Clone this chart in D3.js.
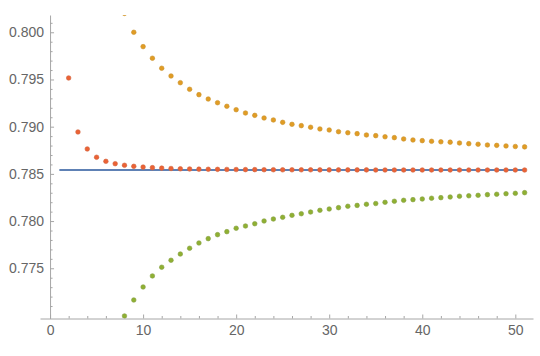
<!DOCTYPE html>
<html>
<head>
<meta charset="utf-8">
<script src="https://cdn.jsdelivr.net/npm/d3@7"></script>
<style>
  body { margin: 0; background: #fff; }
  .axis text { font-family: "Liberation Sans", Arial, sans-serif; font-size: 14px; fill: #666; }
  .axis path, .axis line { stroke: #a6a6a6; }
</style>
</head>
<body>
<div id="chart"></div>
<script>
// values, one per integer n
var limitValue = 0.785398;          // the flat blue line
var lineStart = 1, lineEnd = 51;

var redStart = 2;
var redValues = [0.79516, 0.78944, 0.78764, 0.78676, 0.78633, 0.78608, 0.78591, 0.78580,
  0.78572, 0.78566, 0.78561, 0.78557, 0.78554, 0.78552, 0.78550, 0.78549, 0.78548, 0.78547,
  0.78546, 0.78545, 0.78545, 0.78544, 0.78544, 0.78543, 0.78543, 0.78543, 0.78543, 0.78542,
  0.78542, 0.78542, 0.78542, 0.78542, 0.78542, 0.78541, 0.78541, 0.78541, 0.78541, 0.78541,
  0.78541, 0.78541, 0.78541, 0.78541, 0.78541, 0.78541, 0.78541, 0.78541, 0.78541, 0.78541,
  0.78541, 0.78541];

var upperStart = 8;
var upperValues = [0.80200, 0.80000, 0.79848, 0.79725, 0.79619, 0.79537, 0.79466, 0.79396,
  0.79339, 0.79293, 0.79254, 0.79216, 0.79180, 0.79145, 0.79120, 0.79092, 0.79071, 0.79046,
  0.79025, 0.79011, 0.78994, 0.78976, 0.78965, 0.78947, 0.78936, 0.78926, 0.78912, 0.78905,
  0.78893, 0.78884, 0.78870, 0.78859, 0.78852, 0.78845, 0.78840, 0.78836, 0.78827, 0.78820,
  0.78814, 0.78806, 0.78802, 0.78796, 0.78790, 0.78786];

var lowerStart = 8;
var lowerValues = [0.76995, 0.77164, 0.77302, 0.77419, 0.77511, 0.77585, 0.77651, 0.77712,
  0.77768, 0.77814, 0.77856, 0.77888, 0.77924, 0.77948, 0.77972, 0.78001, 0.78022, 0.78040,
  0.78061, 0.78078, 0.78096, 0.78114, 0.78128, 0.78142, 0.78157, 0.78166, 0.78178, 0.78186,
  0.78199, 0.78210, 0.78220, 0.78227, 0.78234, 0.78242, 0.78248, 0.78255, 0.78263, 0.78268,
  0.78273, 0.78280, 0.78284, 0.78290, 0.78294, 0.78301];

var xTicks = [0, 10, 20, 30, 40, 50];
var yTicks = [0.775, 0.780, 0.785, 0.790, 0.795, 0.800];

var width = 540, height = 356;

var svg = d3.select("#chart").append("svg")
  .attr("width", width)
  .attr("height", height);

var x = d3.scaleLinear()
  .domain([-1.08, 51.9])
  .range([40, 533]);

var y = d3.scaleLinear()
  .domain([0.76968, 0.80183])
  .range([318.5, 15]);

// minor ticks every 2 on x, every 0.001 on y
var xMinor = d3.range(2, 52, 2).filter(function(d) { return d % 10 != 0; });
var yMinor = d3.range(0.770, 0.8015, 0.001).filter(function(d) {
  return Math.abs(Math.round(d * 200) - d * 200) > 1e-6;
});

var gx = svg.append("g")
  .attr("class", "x axis")
  .attr("transform", "translate(0," + y.range()[0] + ")")
  .call(d3.axisBottom(x).tickValues(xTicks).tickSize(-4).tickSizeOuter(0).tickPadding(7).tickFormat(d3.format("d")));
svg.append("g")
  .attr("class", "x axis")
  .attr("transform", "translate(0," + y.range()[0] + ")")
  .call(d3.axisBottom(x).tickValues(xMinor).tickSize(-2.5).tickSizeOuter(0).tickFormat(""))
  .select(".domain").remove();

var gy = svg.append("g")
  .attr("class", "y axis")
  .attr("transform", "translate(" + x(0) + ",0)")
  .call(d3.axisLeft(y).tickValues(yTicks).tickSize(-4).tickSizeOuter(0).tickPadding(6).tickFormat(d3.format(".3f")));
svg.append("g")
  .attr("class", "y axis")
  .attr("transform", "translate(" + x(0) + ",0)")
  .call(d3.axisLeft(y).tickValues(yMinor).tickSize(-2.5).tickSizeOuter(0).tickFormat(""))
  .select(".domain").remove();

svg.append("clipPath").attr("id", "plotClip")
  .append("rect")
  .attr("x", x.range()[0]).attr("y", y.range()[1])
  .attr("width", x.range()[1] - x.range()[0])
  .attr("height", y.range()[0] - y.range()[1]);

var plot = svg.append("g").attr("clip-path", "url(#plotClip)");

plot.append("line")
  .attr("x1", x(lineStart)).attr("x2", x(lineEnd))
  .attr("y1", y(limitValue)).attr("y2", y(limitValue))
  .attr("stroke", "#5E81B5")
  .attr("stroke-width", 2);

function dots(values, start, fill, stroke) {
  plot.append("g").selectAll("circle")
    .data(values)
    .enter().append("circle")
    .attr("cx", function(d, i) { return x(start + i); })
    .attr("cy", function(d) { return y(d); })
    .attr("r", 2.3)
    .attr("fill", fill)
    .attr("stroke", stroke)
    .attr("stroke-width", 0.6);
}

dots(upperValues, upperStart, "#E19C24", "#c9922e");
dots(lowerValues, lowerStart, "#8FB032", "#879f45");
dots(redValues, redStart, "#EB6235", "#d2643f");
</script>
</body>
</html>
